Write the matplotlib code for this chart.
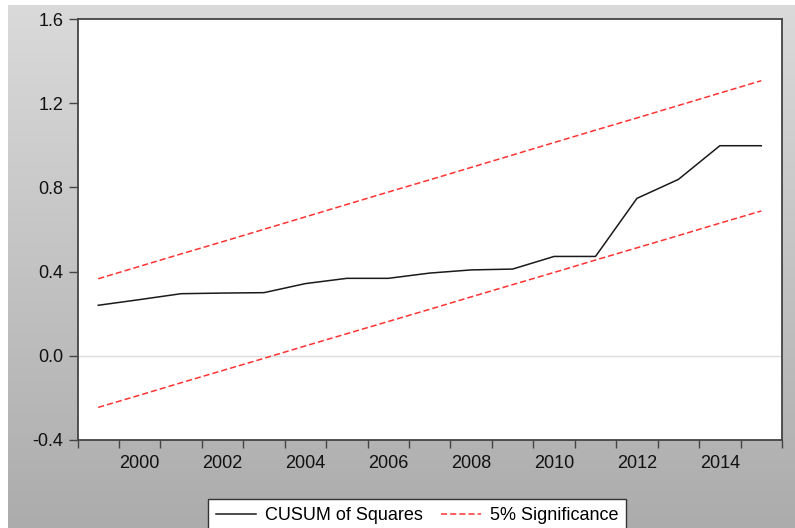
import numpy as np
import matplotlib.pyplot as plt
from matplotlib.lines import Line2D

years = list(range(1999, 2016))
cusum_sq = [0.240, 0.267, 0.295, 0.298, 0.300, 0.343, 0.368, 0.368, 0.393,
            0.408, 0.412, 0.472, 0.472, 0.748, 0.838, 0.998, 0.998]
upper_5 = [0.366, 0.425, 0.484, 0.542, 0.601, 0.660, 0.719, 0.778, 0.836,
           0.895, 0.954, 1.013, 1.072, 1.130, 1.189, 1.248, 1.307]
lower_5 = [-0.245, -0.187, -0.128, -0.070, -0.012, 0.047, 0.105, 0.163, 0.221,
           0.280, 0.338, 0.396, 0.455, 0.513, 0.571, 0.630, 0.688]
year_labels = ["2000", "2002", "2004", "2006", "2008", "2010", "2012", "2014"]
y_ticks = [-0.4, 0.0, 0.4, 0.8, 1.2, 1.6]

plt.rcParams['font.family'] = ['Liberation Sans', 'DejaVu Sans']

fig = plt.figure(figsize=(7.95, 5.28), dpi=100)
fig.patch.set_facecolor('white')

# gray gradient backdrop (white sliver on top and left like the source)
bg = fig.add_axes([8 / 795, 0, 1 - 8 / 795, 1 - 5 / 528], zorder=-10)
grad = np.linspace(0, 1, 256).reshape(-1, 1)
bg.imshow(grad, aspect='auto', cmap=plt.cm.colors.LinearSegmentedColormap.from_list(
    'g', ['#dadada', '#acacac']), extent=[0, 1, 0, 1], origin='upper')
bg.axis('off')

ax = fig.add_axes([77.5 / 795, 1 - 440 / 528, (782 - 77.5) / 795, (440 - 19) / 528])
ax.set_facecolor('white')

ax.axhline(0.0, color='#dedede', linewidth=1.0, zorder=1)
ax.plot(years, cusum_sq, color='#1a1a1a', linewidth=1.1, zorder=3)
ax.plot(years, upper_5, color='#ff3333', linewidth=1.1, dashes=(4, 2), zorder=2)
ax.plot(years, lower_5, color='#ff3333', linewidth=1.1, dashes=(4, 2), zorder=2)

ax.set_xlim(1998.5, 2015.5)
ax.set_ylim(-0.4, 1.6)

ax.set_yticks(y_ticks)
ax.set_yticklabels([f"{v:.1f}" for v in y_ticks])
ax.set_xticks([y + 0.5 for y in range(1998, 2016)])
ax.set_xticklabels([])
ax.set_xticks([int(s) for s in year_labels], minor=True)
ax.set_xticklabels(year_labels, minor=True)

ax.tick_params(axis='y', direction='out', length=6.5, width=1.0, color='#444444',
               pad=3.5, labelsize=13, labelcolor='#111111')
ax.tick_params(axis='x', which='major', direction='out', length=6, width=1.0,
               color='#444444')
ax.tick_params(axis='x', which='minor', length=0, pad=11, labelsize=13,
               labelcolor='#111111')
for s in ax.spines.values():
    s.set_color('#444444')
    s.set_linewidth(1.3)

handles = [Line2D([], [], color='#1a1a1a', linewidth=1.1),
           Line2D([], [], color='#ff3333', linewidth=1.1, dashes=(4, 2))]
leg = fig.legend(handles, ['CUSUM of Squares', '5% Significance'], ncol=2,
                 loc='upper left', bbox_to_anchor=(208 / 795, 1 - 499 / 528),
                 fontsize=13, frameon=True, fancybox=False, handlelength=2.2,
                 handletextpad=0.5, columnspacing=1.0, borderpad=0.45,
                 borderaxespad=0)
leg.get_frame().set_edgecolor('#333333')
leg.get_frame().set_linewidth(1.0)
leg.get_frame().set_facecolor('white')
leg.get_frame().set_alpha(1)

plt.savefig('out.png', dpi=100)
